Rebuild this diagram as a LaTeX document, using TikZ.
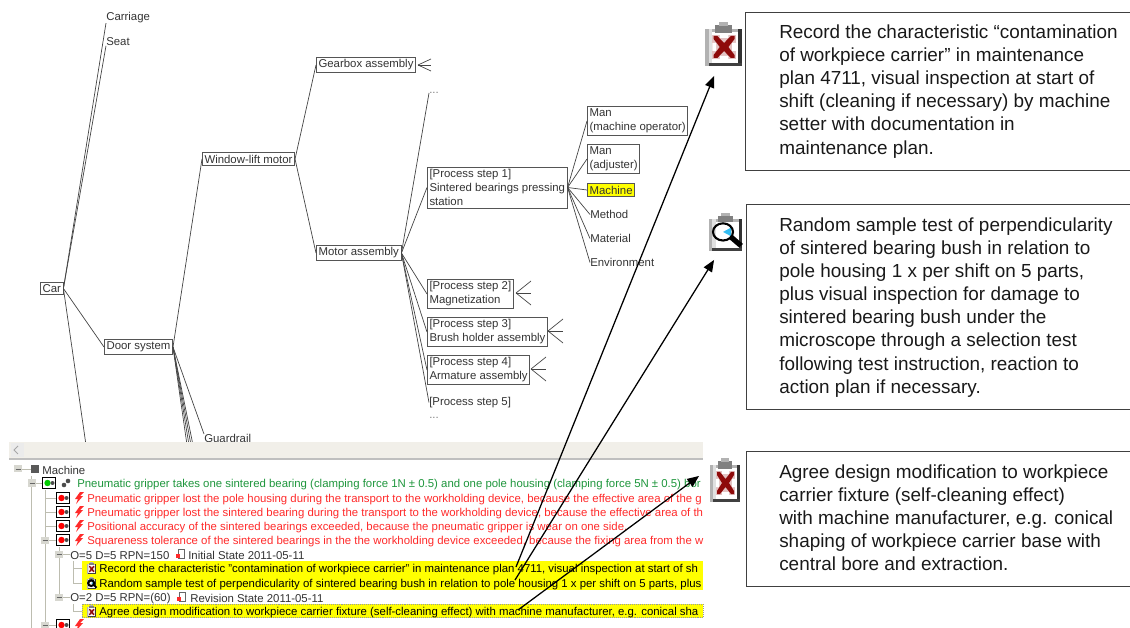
\documentclass[tikz,border=0pt]{standalone}
\usepackage{fontspec}
\setmainfont{Liberation Sans}
\usetikzlibrary{arrows}

\definecolor{boxgray}{HTML}{555555}
\definecolor{linegray}{HTML}{444444}
\definecolor{textgray}{HTML}{333333}
\definecolor{guidegray}{HTML}{BDBDB0}
\definecolor{panelgray}{HTML}{F1EFE9}
\definecolor{failred}{HTML}{FF2A2A}
\definecolor{funcgreen}{HTML}{1E963C}
\definecolor{markyellow}{HTML}{FFFF00}
\definecolor{iconred}{HTML}{8E0A0A}

\newcommand{\treefont}{\fontsize{8.1}{10}\selectfont}
\newcommand{\rowfont}{\fontsize{8.1}{10}\selectfont}
\newcommand{\notefont}{\fontsize{13.45}{16.4}\selectfont}

\tikzset{
    treebox/.style={draw=boxgray,fill=white,text=textgray,font=\treefont,anchor=west,align=left,inner xsep=1.5pt,inner ysep=1.6pt,line width=0.6pt},
    treeleaf/.style={text=textgray,font=\treefont,anchor=west,inner sep=0pt},
    treeline/.style={draw=linegray,line width=0.5pt},
    rowtext/.style={font=\rowfont,anchor=west,inner sep=0pt,yshift=-0.9pt},
    notetext/.style={font=\notefont,anchor=west,align=left,inner sep=0pt,text=black!90},
    notebox/.style={draw=black!75,line width=0.7pt},
    guide/.style={draw=guidegray,line width=0.6pt},
    linkarrow/.style={-triangle 45,line width=0.9pt,black}
}

% clipboard symbol, corner at #1,#2
\newcommand{\clipicon}[4]{
    \begin{scope}[shift={(#1,#2)},xscale=#3,yscale=#4]
        \fill[black!30] (0,7) rectangle (30,44);
        \fill[black!80] (27,7) rectangle (30,44);
        \fill[black!75] (3,41) rectangle (30,44);
        \fill[black!12] (3,7) rectangle (6,41);
        \fill[white] (6,10) rectangle (27,41);
        \fill[black!50] (8,3) rectangle (22,11);
        \fill[black!30] (11,0) rectangle (19,4);
    \end{scope}
}
\newcommand{\crossmark}[4]{
    \begin{scope}[shift={(#1,#2)},xscale=#3,yscale=#4]
        \fill[iconred!25] (6,13) rectangle (25,37);
        \fill[white] (12,13) rectangle (19,16) (12,34) rectangle (19,37) (6,21) rectangle (9,29) (22,21) rectangle (25,29);
        \fill[iconred] (7,14) -- (10,14) -- (15.5,21) -- (21,14) -- (24,14) -- (24,17) -- (19,25) -- (24,33) -- (24,36) -- (21,36) -- (15.5,29) -- (10,36) -- (7,36) -- (7,33) -- (12,25) -- (7,17) -- cycle;
    \end{scope}
}
\newcommand{\lensmark}[4]{
    \begin{scope}[shift={(#1,#2)},xscale=#3,yscale=#4]
        \fill[cyan!80!white] (14,22) -- (22,17) -- (22,27) -- cycle;
        \draw[line width=1.5pt,black] (14,22) circle (10);
        \fill[black] (20,30) -- (24,26) -- (34,36) -- (30,40) -- cycle;
    \end{scope}
}
% state symbol of a list row
\newcommand{\stateicon}[3]{
    \draw[black,fill=white,line width=0.6pt] (#1-6.5,#2-5.5) rectangle (#1+6.5,#2+5.5);
    \fill[#3] (#1-1.5,#2) circle (3.2);
    \fill[black!70] (#1+3.5,#2) circle (2);
}
\newcommand{\boltmark}[2]{
    \fill[failred] (#1+1,#2-6) -- (#1+5,#2-6) -- (#1+1,#2-2) -- (#1+4,#2-2) -- (#1-3,#2+6) -- (#1-1,#2+1) -- (#1-4,#2+1) -- cycle;
}
\newcommand{\treeminus}[2]{
    \fill[guidegray!60] (#1-4,#2-3.5) rectangle (#1+4,#2+3.5);
    \draw[black!60] (#1-2.5,#2) -- (#1+2.5,#2);
}
\newcommand{\revmark}[2]{
    \draw[black!60,fill=white] (#1-2,#2-5) rectangle (#1+4,#2+4);
    \fill[failred] (#1-4,#2) rectangle (#1,#2+4);
}

\begin{document}
\begin{tikzpicture}[x=0.025cm,y=-0.025cm]
    \useasboundingbox (0,0) rectangle (1130,628);

    % tree
    \node[treebox] (car) at (40,288.5) {Car};
    \node[treeleaf] (carriage) at (106,17.5) {Carriage};
    \node[treeleaf] (seat) at (106,41.5) {Seat};
    \node[treebox] (door) at (104,347) {Door system};
    \node[treebox] (window) at (202,159) {Window-lift motor};
    \node[treebox] (gearbox) at (316,65) {Gearbox assembly};
    \node[treebox] (motor) at (316,253) {Motor assembly};
    \node[treeleaf,text=black!50] (dotsup) at (429,93) {...};
    \node[treebox] (stepone) at (427,187.5) {[Process step 1]\\Sintered bearings pressing\\station};
    \node[treebox] (steptwo) at (427,294) {[Process step 2]\\Magnetization};
    \node[treebox] (stepthree) at (427,332) {[Process step 3]\\Brush holder assembly};
    \node[treebox] (stepfour) at (427,370) {[Process step 4]\\Armature assembly};
    \node[treeleaf] (stepfive) at (429,402.5) {[Process step 5]};
    \node[treeleaf,text=black!50] (dotsdown) at (429,418) {...};
    \node[treebox] (manop) at (587,121) {Man\\(machine operator)};
    \node[treebox] (manadj) at (587,159) {Man\\(adjuster)};
    \node[treebox,fill=markyellow] (machine) at (587,190) {Machine};
    \node[treeleaf] (method) at (590,214.5) {Method};
    \node[treeleaf] (material) at (590,238.5) {Material};
    \node[treeleaf] (environment) at (590,262.5) {Environment};
    \node[treeleaf] (guardrail) at (204,438.5) {Guardrail};

    \draw[treeline] (car.east) -- (carriage.south west);
    \draw[treeline] (car.east) -- (seat.south west);
    \draw[treeline] (car.east) -- (door.west);
    \coordinate (carlow) at (86,445);
    \draw[treeline] (car.east) -- (carlow);
    \draw[treeline] (door.east) -- (window.west);
    \draw[treeline] (door.east) -- (guardrail.north west);
    \foreach \fanx in {187,189,191,193}
        \draw[treeline] (door.east) -- (\fanx,445);
    \draw[treeline] (window.east) -- (gearbox.west);
    \draw[treeline] (window.east) -- (motor.west);
    \draw[treeline] (motor.east) -- (dotsup.west);
    \draw[treeline] (motor.east) -- (stepone.west);
    \draw[treeline] (motor.east) -- (steptwo.west);
    \draw[treeline] (motor.east) -- (stepthree.west);
    \draw[treeline] (motor.east) -- (stepfour.west);
    \draw[treeline] (motor.east) -- (stepfive.west);
    \draw[treeline] (stepone.east) -- (manop.west);
    \draw[treeline] (stepone.east) -- (manadj.west);
    \draw[treeline] (stepone.east) -- (machine.west);
    \draw[treeline] (stepone.east) -- (method.west);
    \draw[treeline] (stepone.east) -- (material.west);
    \draw[treeline] (stepone.east) -- (environment.west);

    % collapsed branches
    \foreach \rootx/\rooty/\footx/\spread in {418/65/431/6,516/293/531/12,548/331/563/12,531/369/546/12}{
        \draw[treeline] (\rootx,\rooty) -- (\footx,\rooty-\spread);
        \draw[treeline] (\rootx,\rooty) -- (\footx,\rooty);
        \draw[treeline] (\rootx,\rooty) -- (\footx,\rooty+\spread);
    }

    % list panel
    \fill[white] (0,442) rectangle (703,628);
    \fill[panelgray] (9,442) rectangle (703,458);
    \fill[black!25] (9,458.5) rectangle (703,460);
    \fill[black!8] (11,443) rectangle (24,457);
    \draw[black!35,line width=0.7pt] (18,446) -- (14,450) -- (18,454);

    \draw[guide] (18,469) -- (31,469) (31,476) -- (31,628) (31,483) -- (45,483);
    \draw[guide] (45,490) -- (45,628);
    \foreach \rowy in {498,512,526,540,625}
        \draw[guide] (45,\rowy) -- (56,\rowy);
    \draw[guide] (59,547) -- (59,597) (59,554) -- (70,554) (59,597) -- (70,597);
    \draw[guide] (73,561) -- (73,583) (73,568) -- (82,568) (73,583) -- (82,583);
    \draw[guide] (73,604) -- (73,611) -- (82,611);

    \fill[markyellow] (82,561) rectangle (703,590);
    \draw[black!40,densely dotted,fill=markyellow] (82,604) rectangle (703,617.5);

    \treeminus{18}{469}
    \treeminus{32}{483}
    \treeminus{45}{540}
    \treeminus{59}{554}
    \treeminus{59}{597}
    \treeminus{45}{625}
    \fill[black!65] (31,465) rectangle (39,473);
    \stateicon{49}{483}{green!80!black}
    \fill[black!70] (64,485) circle (2.3) (68,481) circle (2.3);
    \stateicon{63}{498}{red}
    \stateicon{63}{512}{red}
    \stateicon{63}{526}{red}
    \stateicon{63}{540}{red}
    \stateicon{63}{625}{red}
    \boltmark{79}{498}
    \boltmark{79}{512}
    \boltmark{79}{526}
    \boltmark{79}{540}
    \boltmark{79}{625}
    \revmark{180}{554}
    \revmark{181}{597}
    \clipicon{87}{562}{0.3}{0.28}
    \crossmark{87}{562}{0.3}{0.28}
    \clipicon{87}{577}{0.3}{0.28}
    \lensmark{87}{577}{0.3}{0.28}
    \clipicon{87}{605}{0.3}{0.28}
    \crossmark{87}{605}{0.3}{0.28}

    \begin{scope}
        \clip (0,442) rectangle (703,628);
        \node[rowtext,text=textgray] (machinerow) at (42,469) {Machine};
        \node[rowtext,text=funcgreen] (funcrow) at (77,483) {Pneumatic gripper takes one sintered bearing (clamping force 1N ± 0.5) and one pole housing (clamping force 5N ± 0.5) bor};
        \node[rowtext,text=failred] (failone) at (87,498) {Pneumatic gripper lost the pole housing during the transport to the workholding device, because the effective area of the g};
        \node[rowtext,text=failred] (failtwo) at (87,512) {Pneumatic gripper lost the sintered bearing during the transport to the workholding device, because the effective area of th};
        \node[rowtext,text=failred] (failthree) at (87,526) {Positional accuracy of the sintered bearings exceeded, because the pneumatic gripper is wear on one side.};
        \node[rowtext,text=failred] (failfour) at (87,540) {Squareness tolerance of the sintered bearings in the the workholding device exceeded, because the fixing area from the w};
        \node[rowtext,text=textgray] (initialrate) at (70,554) {O=5 D=5 RPN=150};
        \node[rowtext,text=textgray] (initialstate) at (188,554) {Initial State 2011-05-11};
        \node[rowtext,text=black] (recordrow) at (99,568) {Record the characteristic "contamination of workpiece carrier" in maintenance plan 4711, visual inspection at start of sh};
        \node[rowtext,text=black] (samplerow) at (99,583) {Random sample test of perpendicularity of sintered bearing bush in relation to pole housing 1 x per shift on 5 parts, plus};
        \node[rowtext,text=textgray] (revisionrate) at (70,597) {O=2 D=5 RPN=(60)};
        \node[rowtext,text=textgray] (revisionstate) at (190,597) {Revision State 2011-05-11};
        \node[rowtext,text=black] (agreerow) at (99,611) {Agree design modification to workpiece carrier fixture (self-cleaning effect) with machine manufacturer, e.g. conical sha};
    \end{scope}

    % icons beside the notes
    \clipicon{705}{22}{1.23}{1}
    \crossmark{705}{22}{1.23}{1}
    \clipicon{709}{213}{1.1}{0.86}
    \lensmark{709}{213}{1}{0.86}
    \clipicon{710}{458}{1}{1}
    \crossmark{710}{458}{1}{1}

    % notes
    \draw[notebox] (1130,12) -- (745,12) -- (745,170) -- (1130,170);
    \node[notetext] (recordnote) at (779,91.5) {Record the characteristic “contamination\\of workpiece carrier” in maintenance\\plan 4711, visual inspection at start of\\shift (cleaning if necessary) by machine\\setter with documentation in\\maintenance plan.};
    \draw[notebox] (1130,204) -- (746,204) -- (746,409) -- (1130,409);
    \node[notetext] (samplenote) at (779,307.5) {Random sample test of perpendicularity\\of sintered bearing bush in relation to\\pole housing 1 x per shift on 5 parts,\\plus visual inspection for damage to\\sintered bearing bush under the\\microscope through a selection test\\following test instruction, reaction to\\action plan if necessary.};
    \draw[notebox] (1130,451) -- (746,451) -- (746,586) -- (1130,586);
    \node[notetext] (agreenote) at (779,518) {Agree design modification to workpiece\\carrier fixture (self-cleaning effect)\\with machine manufacturer, e.g. conical\\shaping of workpiece carrier base with\\central bore and extraction.};

    % links
    \coordinate (recordfoot) at (516,567);
    \coordinate (samplefoot) at (515,580);
    \coordinate (agreefoot) at (518,610);
    \coordinate (recordicon) at (714,76);
    \coordinate (sampleicon) at (714,260);
    \coordinate (agreeicon) at (699,476);
    \draw[linkarrow] (recordfoot) -- (recordicon);
    \draw[linkarrow] (samplefoot) -- (sampleicon);
    \draw[linkarrow] (agreefoot) -- (agreeicon);
\end{tikzpicture}
\end{document}
